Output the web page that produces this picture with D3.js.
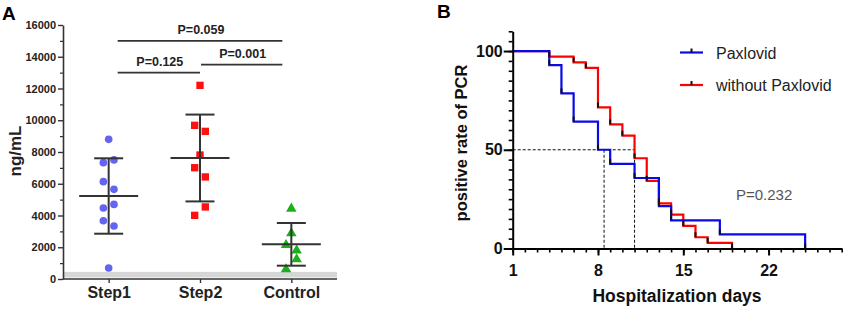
<!DOCTYPE html>
<html>
<head>
<meta charset="utf-8">
<script src="https://cdn.jsdelivr.net/npm/d3@7"></script>
<style>
  html, body { margin: 0; padding: 0; background: #fff; }
  svg { display: block; font-family: "Liberation Sans", Arial, sans-serif; }
</style>
</head>
<body>
<svg id="chart" width="844" height="309"></svg>
<script>
// ---------------- DATA ----------------
// Panel A
const categories = ["Step1", "Step2", "Control"];
const step1Values = [8800, 7330, 7500, 6130, 5650, 4470, 4700, 3670, 3340, 690];
const step2Values = [12200, 9680, 9300, 7810, 7010, 6430, 4010, 4540];
const controlValues = [4430, 2880, 2140, 1800, 610, 1240];
const yTicksA = [0, 2000, 4000, 6000, 8000, 10000, 12000, 14000, 16000];
const comparisons = [
  { from: "Step1", to: "Control", level: 15000, label: "P=0.059" },
  { from: "Step1", to: "Step2", level: 13000, label: "P=0.125" },
  { from: "Step2", to: "Control", level: 13500, label: "P=0.001" }
];
// Panel B (Kaplan-Meier)
const paxDays = [1, 4, 5, 6, 8, 9, 11, 13, 14, 18, 25];
const paxSurv = [100, 92.86, 78.57, 64.29, 50, 42.86, 35.71, 21.43, 14.29, 7.14, 0];
const noPaxDays = [1, 4, 6, 7, 8, 9, 10, 11, 12, 13, 14, 15, 16, 17, 19];
const noPaxSurv = [100, 97.14, 94.29, 91.43, 71.43, 62.86, 57.14, 45.71, 34.29, 22.86, 17.14, 11.43, 5.71, 2.86, 0];
const medians = [8.5, 11];
const xTicksB = [1, 8, 15, 22];
const yTicksB = [0, 50, 100];
const seriesNames = ["Paxlovid", "without Paxlovid"];
const pValueB = "P=0.232";

// ---------------- DRAW ----------------
const svg = d3.select("#chart");
const FONT = '"Liberation Sans", Arial, sans-serif';

// ===== Panel A =====
const gA = svg.append("g");
const yA = d3.scaleLinear().domain([0, 16000]).range([279, 25]);
const xA = d3.scalePoint().domain(categories).range([63, 337]).padding(0.5);
const axisColor = "#333";

gA.append("text").attr("x", 2).attr("y", 20).attr("font-size", 19).attr("font-weight", "bold").text("A");

// grey band near zero
gA.append("rect").attr("x", 63).attr("width", 274)
  .attr("y", yA(450)).attr("height", yA(100) - yA(450)).attr("fill", "#d6d6d6");

// y axis
const yAxA = gA.append("g").attr("transform", "translate(63,0)")
  .call(d3.axisLeft(yA).tickValues(yTicksA).tickSize(5).tickSizeOuter(0).tickPadding(2).tickFormat(d3.format("d")));
yAxA.select(".domain").attr("stroke", axisColor).attr("stroke-width", 1.6);
yAxA.selectAll(".tick line").attr("stroke", axisColor).attr("stroke-width", 1.4);
yAxA.selectAll(".tick text").attr("font-size", 11).attr("font-weight", "bold").attr("fill", "#222").attr("font-family", FONT);
const yMinA = gA.append("g").attr("transform", "translate(63,0)")
  .call(d3.axisLeft(yA).tickValues(d3.range(1000, 16000, 2000)).tickSize(3).tickFormat(""));
yMinA.select(".domain").remove();
yMinA.selectAll(".tick line").attr("stroke", axisColor).attr("stroke-width", 1.2);

// x axis
const xAxA = gA.append("g").attr("transform", "translate(0,279)")
  .call(d3.axisBottom(xA).tickSize(4).tickSizeOuter(0).tickPadding(4));
xAxA.select(".domain").attr("d", "M63,0H337").attr("stroke", axisColor).attr("stroke-width", 1.6);
xAxA.selectAll(".tick line").attr("stroke", axisColor).attr("stroke-width", 1.4);
xAxA.selectAll(".tick text").attr("font-size", 16).attr("font-weight", "bold").attr("fill", "#222").attr("font-family", FONT);

// y label
gA.append("text").attr("transform", "translate(21,151) rotate(-90)")
  .attr("text-anchor", "middle").attr("font-size", 17).attr("font-weight", "bold").attr("fill", "#222").text("ng/mL");

// groups
const groups = [
  { cat: "Step1", values: step1Values, color: "#6464ee", shape: "circle" },
  { cat: "Step2", values: step2Values, color: "#ff1010", shape: "square" },
  { cat: "Control", values: controlValues, color: "#1bb01b", shape: "triangle" }
];
const lane = 5.3;
function swarm(values) {
  // group close points (by pixel distance) into pairs; pair spreads left/right
  const idx = values.map((v, i) => i).sort((a, b) => values[b] - values[a]);
  const offs = new Array(values.length).fill(0);
  let cluster = [];
  const flush = () => {
    if (cluster.length === 2) {
      const s = cluster.slice().sort((a, b) => a - b);
      offs[s[0]] = -lane; offs[s[1]] = lane;
    }
    cluster = [];
  };
  idx.forEach(i => {
    if (cluster.length === 1 && Math.abs(yA(values[i]) - yA(values[cluster[0]])) < 10.5) {
      cluster.push(i); flush();
    } else {
      flush(); cluster = [i];
    }
  });
  flush();
  return offs;
}
const symbolGen = {
  circle: d3.symbol().type(d3.symbolCircle).size(46),
  square: d3.symbol().type(d3.symbolSquare).size(54),
  triangle: d3.symbol().type(d3.symbolTriangle).size(48)
};

groups.forEach(g => {
  const cx = xA(g.cat);
  const offs = swarm(g.values);
  const mean = d3.mean(g.values), sd = d3.deviation(g.values);
  gA.append("g").selectAll("path").data(g.values).join("path")
    .attr("d", symbolGen[g.shape])
    .attr("transform", (d, i) => `translate(${cx + offs[i]},${yA(d)})`)
    .attr("fill", g.color);
  const eg = gA.append("g").attr("stroke", "#333").attr("stroke-width", 2);
  eg.append("line").attr("x1", cx).attr("x2", cx).attr("y1", yA(mean + sd)).attr("y2", yA(mean - sd));
  eg.append("line").attr("x1", cx - 29.5).attr("x2", cx + 29.5).attr("y1", yA(mean)).attr("y2", yA(mean));
  [mean + sd, mean - sd].forEach(v => {
    eg.append("line").attr("x1", cx - 14.5).attr("x2", cx + 14.5).attr("y1", yA(v)).attr("y2", yA(v));
  });
});

// significance brackets
const inset = c => (c === categories[0] ? 9 : c === categories[categories.length - 1] ? -9 : 0);
comparisons.forEach(c => {
  const x1 = xA(c.from) + inset(c.from) + (c.from === categories[1] ? 1 : 0);
  const x2 = xA(c.to) + inset(c.to);
  const y = yA(c.level);
  gA.append("line").attr("x1", x1).attr("x2", x2).attr("y1", y).attr("y2", y)
    .attr("stroke", "#333").attr("stroke-width", 1.8);
  gA.append("text").attr("x", (x1 + x2) / 2 + 1).attr("y", y - 7)
    .attr("text-anchor", "middle").attr("font-size", 12.5).attr("font-weight", "bold").attr("fill", "#222")
    .text(c.label);
});

// ===== Panel B =====
const gB = svg.append("g");
const xB = d3.scaleLinear().domain([1, 28]).range([512.7, 841.7]);
const yB = d3.scaleLinear().domain([0, 110]).range([248.5, 31.3]);

gB.append("text").attr("x", 437).attr("y", 18).attr("font-size", 19).attr("font-weight", "bold").text("B");

// median dashed lines
const dash = gB.append("g").attr("stroke", "#111").attr("stroke-width", 1).attr("stroke-dasharray", "3,2");
dash.append("line").attr("x1", xB(1)).attr("x2", xB(d3.max(medians))).attr("y1", yB(50)).attr("y2", yB(50));
medians.forEach(m => {
  dash.append("line").attr("x1", xB(m)).attr("x2", xB(m)).attr("y1", yB(50)).attr("y2", yB(0));
});

// curves
const kmSeries = [
  { name: seriesNames[1], days: noPaxDays, surv: noPaxSurv, color: "#ff0000" },
  { name: seriesNames[0], days: paxDays, surv: paxSurv, color: "#0a0ae6" }
];
const line = d3.line().x(d => xB(d[0])).y(d => yB(d[1])).curve(d3.curveStepAfter);
kmSeries.forEach(s => {
  const pts = s.days.map((d, i) => [d, s.surv[i]]);
  gB.append("path").attr("d", line(pts)).attr("fill", "none")
    .attr("stroke", s.color).attr("stroke-width", 2.2);
});
kmSeries.forEach(s => {
  const pts = s.days.map((d, i) => [d, s.surv[i]]).slice(1);
  gB.append("g").selectAll("line").data(pts).join("line")
    .attr("x1", d => xB(d[0])).attr("x2", d => xB(d[0]))
    .attr("y1", d => yB(d[1])).attr("y2", d => yB(d[1]) - 5)
    .attr("stroke", "#111").attr("stroke-width", 2);
});

// axes B
const yAxB = gB.append("g").attr("transform", `translate(${xB(1)},0)`)
  .call(d3.axisLeft(yB).tickValues(yTicksB).tickSize(9).tickSizeOuter(0).tickPadding(1));
yAxB.select(".domain").attr("stroke", "#000").attr("stroke-width", 2);
yAxB.selectAll(".tick line").attr("stroke", "#000").attr("stroke-width", 2);
yAxB.selectAll(".tick text").attr("font-size", 16).attr("font-weight", "bold").attr("fill", "#111").attr("font-family", FONT);
const yMinB = gB.append("g").attr("transform", `translate(${xB(1)},0)`)
  .call(d3.axisLeft(yB).tickValues(d3.range(0, 111, 5)).tickSize(4).tickFormat(""));
yMinB.select(".domain").remove();
yMinB.selectAll(".tick line").attr("stroke", "#000").attr("stroke-width", 1.6);

const xAxB = gB.append("g").attr("transform", `translate(0,${yB(0)})`)
  .call(d3.axisBottom(xB).tickValues(xTicksB).tickSize(7).tickSizeOuter(0).tickPadding(9));
xAxB.select(".domain").attr("stroke", "#000").attr("stroke-width", 2);
xAxB.selectAll(".tick line").attr("stroke", "#000").attr("stroke-width", 2);
xAxB.selectAll(".tick text").attr("font-size", 16).attr("font-weight", "bold").attr("fill", "#111").attr("font-family", FONT);
const xMinB = gB.append("g").attr("transform", `translate(0,${yB(0)})`)
  .call(d3.axisBottom(xB).tickValues(d3.range(1, 29)).tickSize(4).tickFormat(""));
xMinB.select(".domain").remove();
xMinB.selectAll(".tick line").attr("stroke", "#000").attr("stroke-width", 1.6);

// axis labels
gB.append("text").attr("x", 677).attr("y", 302).attr("text-anchor", "middle")
  .attr("font-size", 17.5).attr("font-weight", "bold").attr("fill", "#111").text("Hospitalization days");
gB.append("text").attr("transform", "translate(467,143) rotate(-90)").attr("text-anchor", "middle")
  .attr("font-size", 16.5).attr("font-weight", "bold").attr("fill", "#111").text("positive rate of PCR");

// legend
const legend = [
  { name: seriesNames[0], color: "#0a0ae6" },
  { name: seriesNames[1], color: "#ff0000" }
];
legend.forEach((l, i) => {
  const y = 52.5 + i * 32.5;
  gB.append("line").attr("x1", 680).attr("x2", 703).attr("y1", y).attr("y2", y)
    .attr("stroke", l.color).attr("stroke-width", 2.2);
  gB.append("line").attr("x1", 691.5).attr("x2", 691.5).attr("y1", y).attr("y2", y - 4)
    .attr("stroke", "#111").attr("stroke-width", 2);
  gB.append("text").attr("x", 716).attr("y", y + 6).attr("font-size", 16).attr("fill", "#222").text(l.name);
});

gB.append("text").attr("x", 736).attr("y", 200).attr("font-size", 15).attr("fill", "#555").text(pValueB);
</script>
</body>
</html>
